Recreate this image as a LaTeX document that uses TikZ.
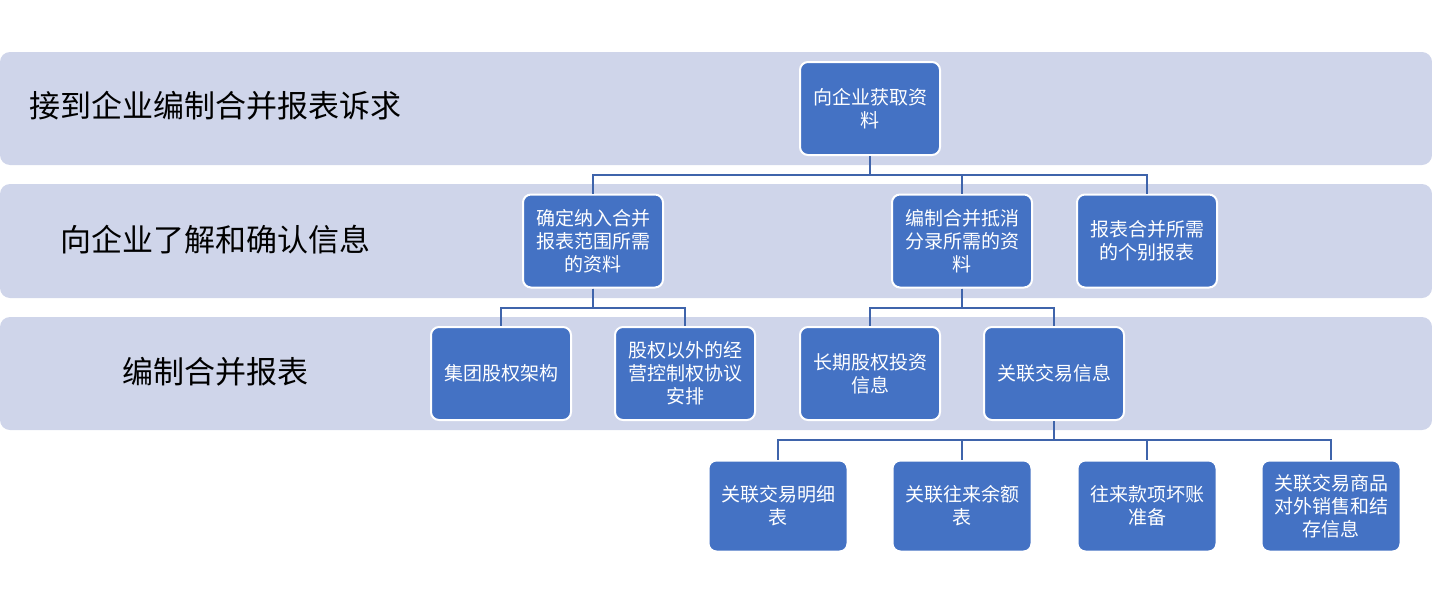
\documentclass[tikz,border=0pt]{standalone}
\usepackage{fontspec}
\setmainfont{Noto Sans CJK SC}
\usetikzlibrary{positioning}
\definecolor{band}{HTML}{CFD5EA}
\definecolor{boxblue}{HTML}{4472C4}
\definecolor{wire}{HTML}{3F64AB}
\newcommand{\stage}[2]{\fill[band,rounded corners=10pt] (0,#1) rectangle (1432,#2);}
\tikzset{item/.style={draw=white,line width=2pt,fill=boxblue,rounded corners=8pt,minimum width=140pt,minimum height=93pt,text=white,align=center,inner sep=2pt,font=\fontsize{19}{23}\selectfont},
leaf/.style={item,minimum width=139pt,minimum height=91pt},
stagelabel/.style={font=\fontsize{31}{36}\selectfont,text=black},
link/.style={wire,line width=2pt}}

\begin{document}
\begin{tikzpicture}[x=1pt,y=-1pt]
\useasboundingbox (0,0) rectangle (1432,605);
\stage{52}{165}\stage{184}{298}\stage{317}{430}
\node[stagelabel] (s1) at (215,106){接到企业编制合并报表诉求};
\node[stagelabel] (s2) at (215,240){向企业了解和确认信息};
\node[stagelabel] (s3) at (215,372){编制合并报表};
\node[item] (src) at (870,108.5){向企业获取资\\料};
\node[item] (scope) at (593,241){确定纳入合并\\报表范围所需\\的资料};
\node[item] (elim) at (962,241){编制合并抵消\\分录所需的资\\料};
\node[item] (indiv) at (1147,241){报表合并所需\\的个别报表};
\node[item] (group) at (501,373.5){集团股权架构};
\node[item] (ctrl) at (685,373.5){股权以外的经\\营控制权协议\\安排};
\node[item] (ltinv) at (870,373.5){长期股权投资\\信息};
\node[item] (rpt) at (1054,373.5){关联交易信息};
\node[leaf] (rptlist) at (778,506){关联交易明细\\表};
\node[leaf] (rptbal) at (962,506){关联往来余额\\表};
\node[leaf] (baddebt) at (1147,506){往来款项坏账\\准备};
\node[leaf] (goods) at (1331,506){关联交易商品\\对外销售和结\\存信息};
\foreach \c in {scope,elim,indiv}{\draw[link] (src.south) -- ++(0,19) -| (\c.north);}
\foreach \c in {group,ctrl}{\draw[link] (scope.south) -- ++(0,19) -| (\c.north);}
\foreach \c in {ltinv,rpt}{\draw[link] (elim.south) -- ++(0,19) -| (\c.north);}
\foreach \c in {rptlist,rptbal,baddebt,goods}{\draw[link] (rpt.south) -- ++(0,19) -| (\c.north);}
\end{tikzpicture}
\end{document}
